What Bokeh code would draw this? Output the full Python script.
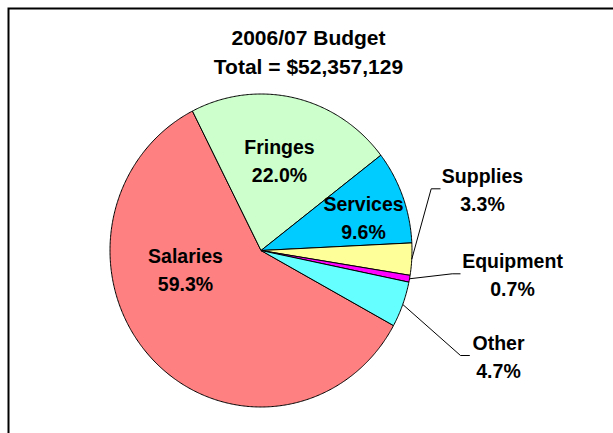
import numpy as np
from bokeh.plotting import figure
from bokeh.models import Range1d, ColumnDataSource
from bokeh.core.properties import value
from bokeh.embed import file_html
from bokeh.resources import INLINE

# ---- data ----
title_lines = ["2006/07 Budget", "Total = $52,357,129"]
categories = ["Salaries", "Fringes", "Services", "Supplies", "Equipment", "Other"]
percents = [59.3, 22.0, 9.6, 3.3, 0.7, 4.7]
colors = ["#FF8080", "#CCFFCC", "#00CCFF", "#FFFF99", "#FF00FF", "#66FFFF"]

# ---- layout (screen px of the 613x433 window) ----
W, H = 613, 433
def sx(x):
    return x
def sy(y):
    return H - y

CX, CY = sx(260.5), sy(250.0)
RX, RY = 151.0, 156.5
END_ANGLE_FIRST = 117.0  # degrees, where first slice ends (going clockwise)

label_pos = {  # screen centre of the name line
    "Salaries": (185, 255), "Fringes": (279, 146), "Services": (363, 203),
    "Supplies": (482, 175), "Equipment": (512, 260), "Other": (498, 342),
}
LINE_GAP = 28
leaders = {  # elbow and end of leader lines (screen)
    "Supplies": [(430.7, 188.3), (440, 188.3)],
    "Equipment": [(451.7, 273.3), (460, 273.3)],
    "Other": [(460, 355), (469.3, 355)],
}
FONT = value("Liberation Sans")

p = figure(width=W, height=H, x_range=Range1d(0, W), y_range=Range1d(0, H),
           output_backend="svg", toolbar_location=None,
           x_axis_location=None, y_axis_location=None, min_border=0,
           outline_line_color=None, background_fill_color="white",
           border_fill_color="white")
p.grid.visible = False

# chart-area border (only left and top edges fall inside the window)
p.line([sx(8), sx(8), sx(W + 5)], [sy(H + 5), sy(8), sy(8)],
       line_color="black", line_width=2, line_join="miter")

# ---- pie slices ----
vals = np.array(percents, dtype=float)
frac = vals / vals.sum()
start = END_ANGLE_FIRST + 360.0 * frac[0]
bounds = start - 360.0 * np.concatenate([[0], np.cumsum(frac)])
xs, ys, mids = [], [], []
for k in range(len(vals)):
    a0, a1 = bounds[k], bounds[k + 1]
    t = np.radians(np.linspace(a0, a1, max(4, int(abs(a0 - a1) * 2))))
    xs.append(np.concatenate([[CX], CX + RX * np.cos(t), [CX]]))
    ys.append(np.concatenate([[CY], CY + RY * np.sin(t), [CY]]))
    mids.append(np.radians((a0 + a1) / 2))
src = ColumnDataSource(dict(xs=xs, ys=ys, color=colors, cat=categories))
p.patches("xs", "ys", fill_color="color", line_color="black", line_width=1, source=src)

# ---- leader lines ----
for k, cat in enumerate(categories):
    if cat in leaders:
        m = mids[k]
        lx = [CX + RX * np.cos(m)] + [sx(pt[0]) for pt in leaders[cat]]
        ly = [CY + RY * np.sin(m)] + [sy(pt[1]) for pt in leaders[cat]]
        p.line(lx, ly, line_color="black", line_width=1)

# ---- labels ----
lx = [sx(label_pos[c][0]) for c in categories]
ly = [sy(label_pos[c][1]) for c in categories]
pct_text = [f"{v:.1f}%" for v in percents]
p.text(lx, ly, text=categories, text_font=FONT, text_font_style="bold",
       text_font_size="19.5px", text_align="center", text_baseline="middle", text_color="black")
p.text(lx, [y - LINE_GAP for y in ly], text=pct_text, text_font=FONT, text_font_style="bold",
       text_font_size="19.5px", text_align="center", text_baseline="middle", text_color="black")

# ---- title ----
p.text([sx(308), sx(308)], [sy(37), sy(65.5)], text=title_lines, text_font=FONT,
       text_font_style="bold", text_font_size="21px", text_align="center",
       text_baseline="middle", text_color="black")

open("out.html", "w").write(file_html(p, INLINE))
